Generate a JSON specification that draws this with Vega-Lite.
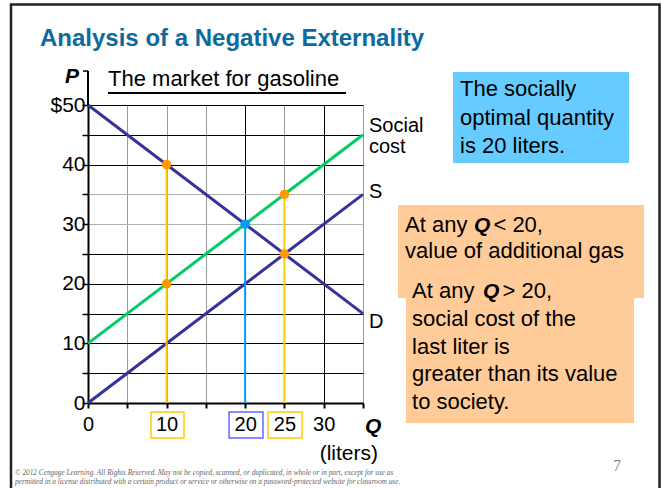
{
  "$schema": "https://vega.github.io/schema/vega-lite/v6.json",
  "width": 275,
  "height": 298,
  "autosize": {"type": "none"},
  "padding": {"left": 88, "top": 105, "right": 299, "bottom": 85},
  "background": "white",
  "config": {"view": {"stroke": null}, "text": {"font": "Liberation Sans"}},
  "encoding": {
    "x": {
      "field": "x", "type": "quantitative",
      "scale": {"domain": [0, 35], "nice": false, "zero": false},
      "axis": {
        "title": null,
        "values": [0, 5, 10, 15, 20, 25, 30, 35],
        "labelExpr": "datum.value == 5 || datum.value == 15 || datum.value == 35 ? '' : datum.label",
        "grid": true,
        "gridColor": {"condition": {"test": "datum.value == 20 || datum.value == 30", "value": "#000000"}, "value": "#9a9a9a"},
        "gridWidth": 1,
        "domainColor": "#000000", "domainWidth": 2,
        "tickColor": "#000000", "tickSize": 5, "tickWidth": 2,
        "labelFont": "Liberation Sans", "labelFontSize": 20, "labelColor": "#000000",
        "labelPadding": 6, "labelFlush": false, "labelOverlap": false
      }
    },
    "y": {
      "field": "y", "type": "quantitative",
      "scale": {"domain": [0, 50], "nice": false, "zero": false},
      "axis": {
        "title": null,
        "values": [0, 5, 10, 15, 20, 25, 30, 35, 40, 45, 50],
        "labelExpr": "datum.value % 10 != 0 ? '' : (datum.value == 50 ? '$50' : datum.label)",
        "grid": true,
        "gridColor": {"condition": {"test": "datum.value == 30 || datum.value == 35", "value": "#b0b0b0"}, "value": "#000000"},
        "gridWidth": 1,
        "domainColor": "#000000", "domainWidth": 2,
        "tickColor": "#000000", "tickSize": 6, "tickWidth": 1.5,
        "labelFont": "Liberation Sans", "labelFontSize": 21, "labelColor": "#000000",
        "labelPadding": -3, "labelFlush": false, "labelOverlap": false
      }
    }
  },
  "layer": [
    {
      "data": {"values": [{"x": -9.8, "x2": 72.74, "y": 66.86, "y2": -20}]},
      "mark": {"type": "rect", "fill": null, "fillOpacity": 0, "stroke": "#222222", "strokeWidth": 2.5, "clip": false},
      "encoding": {"x2": {"field": "x2"}, "y2": {"field": "y2"}}
    },
    {
      "data": {"values": [
        {"curve": "D", "x": 0, "y": 50}, {"curve": "D", "x": 35, "y": 15},
        {"curve": "S", "x": 0, "y": 0}, {"curve": "S", "x": 35, "y": 35},
        {"curve": "Social cost", "x": 0, "y": 10}, {"curve": "Social cost", "x": 35, "y": 45}
      ]},
      "mark": {"type": "line", "strokeWidth": 3, "clip": false},
      "encoding": {
        "color": {"field": "curve", "type": "nominal", "scale": {"domain": ["D", "S", "Social cost"], "range": ["#333399", "#333399", "#00cc66"]}, "legend": null}
      }
    },
    {
      "data": {"values": [{"x": 10, "y": 0, "y2": 40}, {"x": 25, "y": 0, "y2": 35}]},
      "mark": {"type": "rule", "color": "#ffcc00", "strokeWidth": 2},
      "encoding": {"y2": {"field": "y2"}}
    },
    {
      "data": {"values": [{"x": 20, "y": 0, "y2": 30}]},
      "mark": {"type": "rule", "color": "#0099ff", "strokeWidth": 2},
      "encoding": {"y2": {"field": "y2"}}
    },
    {
      "data": {"values": [{"x": 10, "y": 40}, {"x": 10, "y": 20}, {"x": 25, "y": 35}, {"x": 25, "y": 25}]},
      "mark": {"type": "point", "filled": true, "opacity": 1, "color": "#ff9900", "size": 90},
      "encoding": {}
    },
    {
      "data": {"values": [{"x": 20, "y": 30}]},
      "mark": {"type": "point", "filled": true, "opacity": 1, "color": "#0099ff", "size": 90},
      "encoding": {}
    },
    {
      "data": {"values": [{"x": 0, "y": 50, "y2": 55.7}]},
      "mark": {"type": "rule", "color": "#000000", "strokeWidth": 2, "clip": false},
      "encoding": {"y2": {"field": "y2"}}
    },
    {
      "data": {"values": [{"x": -0.64, "x2": 0, "y": 55.7}]},
      "mark": {"type": "rule", "color": "#000000", "strokeWidth": 1.5, "clip": false},
      "encoding": {"x2": {"field": "x2"}}
    },
    {
      "data": {"values": [{"x": 8.02, "x2": 12.22, "y": -1.51, "y2": -5.87}, {"x": 22.91, "x2": 27.24, "y": -1.51, "y2": -5.87}]},
      "mark": {"type": "rect", "fill": null, "fillOpacity": 0, "stroke": "#ffcc00", "strokeWidth": 1.5, "clip": false},
      "encoding": {"x2": {"field": "x2"}, "y2": {"field": "y2"}}
    },
    {
      "data": {"values": [{"x": 17.95, "x2": 22.27, "y": -1.51, "y2": -5.87}]},
      "mark": {"type": "rect", "fill": null, "fillOpacity": 0, "stroke": "#6666ff", "strokeWidth": 1.5, "clip": false},
      "encoding": {"x2": {"field": "x2"}, "y2": {"field": "y2"}}
    },
    {
      "data": {"values": [
        {"x": 35.76, "y": 45.52, "text": "Social"},
        {"x": 35.76, "y": 41.9, "text": "cost"},
        {"x": 35.76, "y": 34.4, "text": "S"},
        {"x": 35.76, "y": 12.6, "text": "D"}
      ]},
      "mark": {"type": "text", "align": "left", "baseline": "alphabetic", "fontSize": 20, "color": "#000000", "clip": false},
      "encoding": {"text": {"field": "text"}}
    },
    {
      "data": {"values": [{"x": 36.91, "y": -8.56, "text": "(liters)"}]},
      "mark": {"type": "text", "align": "right", "baseline": "middle", "fontSize": 21, "color": "#000000", "clip": false},
      "encoding": {"text": {"field": "text"}}
    },
    {
      "data": {"values": [{"x": -2.04, "y": 54.7, "text": "P"}, {"x": 36.3, "y": -4.11, "text": "Q"}]},
      "mark": {"type": "text", "align": "center", "baseline": "middle", "fontSize": 21, "fontWeight": "bold", "fontStyle": "italic", "color": "#000000", "clip": false},
      "encoding": {"text": {"field": "text"}}
    },
    {
      "data": {"values": [{"x": 2.55, "y": 53.2, "text": "The market for gasoline"}]},
      "mark": {"type": "text", "align": "left", "baseline": "alphabetic", "fontSize": 22, "color": "#000000", "clip": false},
      "encoding": {"text": {"field": "text"}}
    },
    {
      "data": {"values": [{"x": 2.55, "x2": 32.84, "y": 52.0}]},
      "mark": {"type": "rule", "color": "#000000", "strokeWidth": 2, "clip": false},
      "encoding": {"x2": {"field": "x2"}}
    },
    {
      "data": {"values": [{"x": 46.46, "x2": 68.86, "y": 55.54, "y2": 40.27}]},
      "mark": {"type": "rect", "fill": "#66ccff", "clip": false},
      "encoding": {"x2": {"field": "x2"}, "y2": {"field": "y2"}}
    },
    {
      "data": {"values": [
        {"x": 47.35, "y": 51.5, "text": "The socially"},
        {"x": 47.35, "y": 46.6, "text": "optimal quantity"},
        {"x": 47.35, "y": 41.95, "text": "is 20 liters."}
      ]},
      "mark": {"type": "text", "align": "left", "baseline": "alphabetic", "fontSize": 22, "color": "#000000", "clip": false},
      "encoding": {"text": {"field": "text"}}
    },
    {
      "data": {"values": [{"x": 39.46, "x2": 70.77, "y": 33.22, "y2": 17.62}]},
      "mark": {"type": "rect", "fill": "#ffcc99", "clip": false},
      "encoding": {"x2": {"field": "x2"}, "y2": {"field": "y2"}}
    },
    {
      "data": {"values": [
        {"x": 40.35, "y": 28.74, "text": "At any"},
        {"x": 51.6, "y": 28.74, "text": "< 20,"},
        {"x": 40.35, "y": 24.28, "text": "value of additional gas"}
      ]},
      "mark": {"type": "text", "align": "left", "baseline": "alphabetic", "fontSize": 22, "color": "#000000", "clip": false},
      "encoding": {"text": {"field": "text"}}
    },
    {
      "data": {"values": [{"x": 49.13, "y": 28.74, "text": "Q"}]},
      "mark": {"type": "text", "align": "left", "baseline": "alphabetic", "fontSize": 21, "fontWeight": "bold", "fontStyle": "italic", "color": "#000000", "clip": false},
      "encoding": {"text": {"field": "text"}}
    },
    {
      "data": {"values": [{"x": 40.47, "x2": 69.49, "y": 20.97, "y2": -3.36}]},
      "mark": {"type": "rect", "fill": "#ffcc99", "clip": false},
      "encoding": {"x2": {"field": "x2"}, "y2": {"field": "y2"}}
    },
    {
      "data": {"values": [
        {"x": 41.24, "y": 17.62, "text": "At any"},
        {"x": 52.75, "y": 17.62, "text": "> 20,"},
        {"x": 41.24, "y": 13.0, "text": "social cost of the"},
        {"x": 41.24, "y": 8.3, "text": "last liter is"},
        {"x": 41.24, "y": 3.69, "text": "greater than its value"},
        {"x": 41.24, "y": -1.09, "text": "to society."}
      ]},
      "mark": {"type": "text", "align": "left", "baseline": "alphabetic", "fontSize": 22, "color": "#000000", "clip": false},
      "encoding": {"text": {"field": "text"}}
    },
    {
      "data": {"values": [{"x": 50.27, "y": 17.62, "text": "Q"}]},
      "mark": {"type": "text", "align": "left", "baseline": "alphabetic", "fontSize": 21, "fontWeight": "bold", "fontStyle": "italic", "color": "#000000", "clip": false},
      "encoding": {"text": {"field": "text"}}
    },
    {
      "data": {"values": [{"x": -6.11, "y": 59.9, "text": "Analysis of a Negative Externality"}]},
      "mark": {"type": "text", "align": "left", "baseline": "alphabetic", "font": "Liberation Sans", "fontSize": 24, "fontWeight": "bold", "color": "#0b6a9e", "clip": false},
      "encoding": {"text": {"field": "text"}}
    },
    {
      "data": {"values": [
        {"x": -9.29, "y": -11.74, "text": "© 2012 Cengage Learning. All Rights Reserved. May not be copied, scanned, or duplicated, in whole or in part, except for use as"},
        {"x": -9.29, "y": -13.26, "text": "permitted in a license distributed with a certain product or service or otherwise on a password-protected website for classroom use."}
      ]},
      "mark": {"type": "text", "align": "left", "baseline": "middle", "font": "Liberation Serif", "fontStyle": "italic", "fontSize": 7.3, "color": "#666666", "clip": false},
      "encoding": {"text": {"field": "text"}}
    },
    {
      "data": {"values": [{"x": 67.33, "y": -10.57, "text": "7"}]},
      "mark": {"type": "text", "align": "center", "baseline": "middle", "font": "Liberation Serif", "fontSize": 16, "color": "#888888", "clip": false},
      "encoding": {"text": {"field": "text"}}
    }
  ]
}
